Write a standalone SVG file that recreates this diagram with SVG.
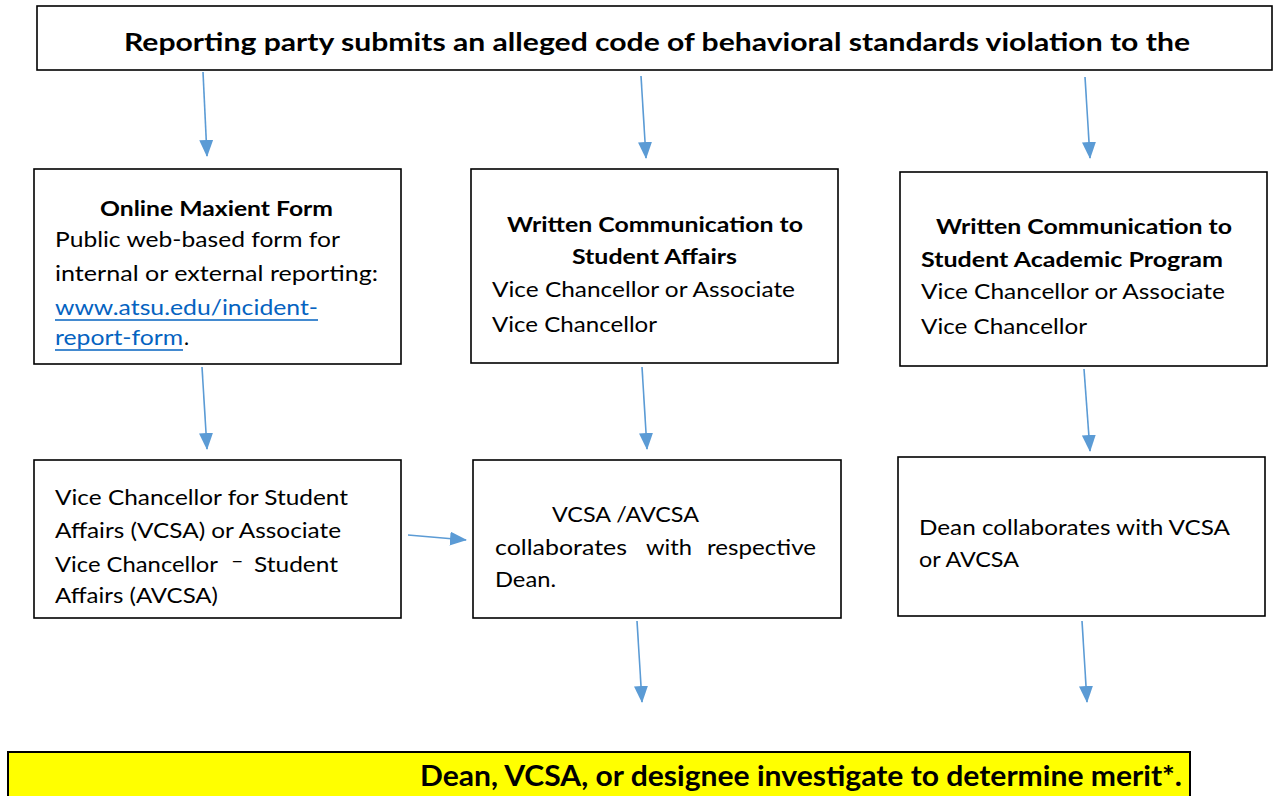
<svg xmlns="http://www.w3.org/2000/svg" width="1275" height="796" viewBox="0 0 1275 796">
<style>
.box{fill:#fff;stroke:#000;stroke-width:1.6}
.t{font-family:Lato,"Open Sans","Liberation Sans",sans-serif;font-size:21.5px;fill:#000}
.b{font-weight:bold}
.title{font-size:24px}
.big{font-size:28px}
.link{fill:#0563C1}
.conn{stroke:#5B9BD5;stroke-width:1.6;fill:none;marker-end:url(#ah)}
</style>
<defs>
<marker id="ah" markerUnits="userSpaceOnUse" markerWidth="17" markerHeight="14" refX="16" refY="7" orient="auto">
<path d="M0,0 L17,7 L0,14 z" fill="#5B9BD5"/>
</marker>
</defs>
<rect width="1275" height="796" fill="#fff"/>

<g id="top">
<rect class="box" x="37" y="6" width="1235" height="64"/>
<text class="t b title" x="124" y="51" textLength="1066" lengthAdjust="spacingAndGlyphs">Reporting party submits an alleged code of behavioral standards violation to the</text>
</g>

<g id="online-form">
<rect class="box" x="34" y="169" width="367" height="195"/>
<text class="t b" x="100" y="216" textLength="233" lengthAdjust="spacingAndGlyphs">Online Maxient Form</text>
<text class="t" x="55" y="247" textLength="285" lengthAdjust="spacingAndGlyphs">Public web-based form for</text>
<text class="t" x="55" y="281" textLength="323" lengthAdjust="spacingAndGlyphs">internal or external reporting:</text>
<text class="t link" x="55" y="315" textLength="263" lengthAdjust="spacingAndGlyphs">www.atsu.edu/incident-</text>
<line x1="55" y1="320" x2="318" y2="320" stroke="#0563C1" stroke-width="1.4"/>
<text class="t link" x="55" y="345" textLength="128" lengthAdjust="spacingAndGlyphs">report-form</text>
<line x1="55" y1="350" x2="183" y2="350" stroke="#0563C1" stroke-width="1.4"/>
<text class="t" x="184" y="345">.</text>
</g>

<g id="written-sa">
<rect class="box" x="471" y="169" width="367" height="194"/>
<text class="t b" x="507" y="232" textLength="296" lengthAdjust="spacingAndGlyphs">Written Communication to</text>
<text class="t b" x="572" y="264" textLength="165" lengthAdjust="spacingAndGlyphs">Student Affairs</text>
<text class="t" x="492" y="297" textLength="303" lengthAdjust="spacingAndGlyphs">Vice Chancellor or Associate</text>
<text class="t" x="492" y="332" textLength="165" lengthAdjust="spacingAndGlyphs">Vice Chancellor</text>
</g>

<g id="written-sap">
<rect class="box" x="900" y="172" width="367" height="194"/>
<text class="t b" x="936" y="234" textLength="296" lengthAdjust="spacingAndGlyphs">Written Communication to</text>
<text class="t b" x="921" y="267" textLength="302" lengthAdjust="spacingAndGlyphs">Student Academic Program</text>
<text class="t" x="921" y="299" textLength="304" lengthAdjust="spacingAndGlyphs">Vice Chancellor or Associate</text>
<text class="t" x="921" y="334" textLength="166" lengthAdjust="spacingAndGlyphs">Vice Chancellor</text>
</g>

<g id="vcsa">
<rect class="box" x="34" y="460" width="367" height="158"/>
<text class="t" x="55" y="505" textLength="293" lengthAdjust="spacingAndGlyphs">Vice Chancellor for Student</text>
<text class="t" x="55" y="538" textLength="286" lengthAdjust="spacingAndGlyphs">Affairs (VCSA) or Associate</text>
<text class="t" x="55" y="572" textLength="163" lengthAdjust="spacingAndGlyphs">Vice Chancellor</text>
<text class="t" x="231" y="568">–</text>
<text class="t" x="254" y="572" textLength="84" lengthAdjust="spacingAndGlyphs">Student</text>
<text class="t" x="55" y="603" textLength="163" lengthAdjust="spacingAndGlyphs">Affairs (AVCSA)</text>
</g>

<g id="vcsa-collab">
<rect class="box" x="473" y="460" width="368" height="158"/>
<text class="t" x="552" y="522" textLength="147" lengthAdjust="spacingAndGlyphs">VCSA  /AVCSA</text>
<text class="t" x="495" y="555" textLength="132" lengthAdjust="spacingAndGlyphs">collaborates</text>
<text class="t" x="646" y="555" textLength="46" lengthAdjust="spacingAndGlyphs">with</text>
<text class="t" x="707" y="555" textLength="109" lengthAdjust="spacingAndGlyphs">respective</text>
<text class="t" x="495" y="587" textLength="61" lengthAdjust="spacingAndGlyphs">Dean.</text>
</g>

<g id="dean-collab">
<rect class="box" x="898" y="457" width="367" height="159"/>
<text class="t" x="919" y="535" textLength="311" lengthAdjust="spacingAndGlyphs">Dean collaborates with VCSA</text>
<text class="t" x="919" y="567" textLength="100" lengthAdjust="spacingAndGlyphs">or AVCSA</text>
</g>

<g id="investigate">
<rect x="8" y="752" width="1182" height="60" fill="#FFFF00" stroke="#000" stroke-width="2"/>
<text class="t b big" x="420" y="786" textLength="762" lengthAdjust="spacingAndGlyphs">Dean, VCSA, or designee investigate to determine merit*.</text>
</g>

<g id="connectors">
<line class="conn" x1="203" y1="72" x2="207" y2="156"/>
<line class="conn" x1="641" y1="76" x2="646" y2="158"/>
<line class="conn" x1="1085" y1="77" x2="1090" y2="158"/>
<line class="conn" x1="202" y1="367" x2="207" y2="449"/>
<line class="conn" x1="642" y1="367" x2="647" y2="449"/>
<line class="conn" x1="1084" y1="369" x2="1090" y2="451"/>
<line class="conn" x1="408" y1="535" x2="466" y2="540"/>
<line class="conn" x1="637" y1="621" x2="642" y2="702"/>
<line class="conn" x1="1082" y1="621" x2="1087" y2="702"/>
</g>
</svg>
